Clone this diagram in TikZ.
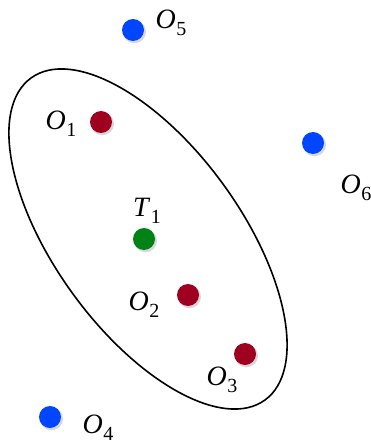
\documentclass[tikz,border=0pt]{standalone}
\usepackage{fontspec}
\setmainfont{Liberation Serif}
\newcommand{\lbl}[2]{\fontsize{28}{28}\selectfont\textit{#1}\kern0.02em\raisebox{-0.26em}{\fontsize{20}{20}\selectfont #2}}
\definecolor{dotblue}{RGB}{0,70,255}
\definecolor{dotred}{RGB}{160,0,32}
\definecolor{dotgreen}{RGB}{0,130,20}
\tikzset{
  dot/.style={circle,minimum size=22pt,inner sep=0pt,fill=#1},
  lab/.style={inner sep=0pt,anchor=center},
  shadowc/.style={fill=black!25,opacity=0.6}
}
\begin{document}
\begin{tikzpicture}[x=1pt,y=-1pt]
\useasboundingbox (0,0) rectangle (370,446);
\fill[white] (0,0) rectangle (370,446);
% region
\draw[line width=1.6pt] (148,239) ellipse[x radius=199, y radius=93, rotate=-54];
% shadows
\foreach \p in {(133,30),(101,122),(313,143),(144,239),(188,295),(245,354),(50,417)}
  \fill[shadowc] \p ++(1.5,1.8) circle (11.5);
% dots
\node[dot=dotblue] (o5) at (133,30) {};
\node[dot=dotred] (o1) at (101,122) {};
\node[dot=dotblue] (o6) at (313,143) {};
\node[dot=dotgreen] (t1) at (144,239) {};
\node[dot=dotred] (o2) at (188,295) {};
\node[dot=dotred] (o3) at (245,354) {};
\node[dot=dotblue] (o4) at (50,417) {};
% labels
\node[lab] (lo5) at (171,23) {\lbl{O}{5}};
\node[lab] (lo1) at (61,124) {\lbl{O}{1}};
\node[lab] (lo6) at (356,188) {\lbl{O}{6}};
\node[lab] (lt1) at (147,211) {\lbl{T}{1}};
\node[lab] (lo2) at (144,305) {\lbl{O}{2}};
\node[lab] (lo3) at (222,380) {\lbl{O}{3}};
\node[lab] (lo4) at (98,428) {\lbl{O}{4}};
\end{tikzpicture}
\end{document}
